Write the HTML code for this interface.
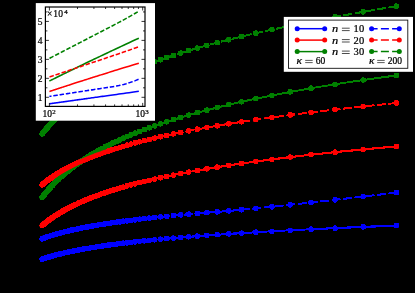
<!DOCTYPE html>
<html><head><meta charset="utf-8"><title>plot</title>
<style>
html,body{margin:0;padding:0;background:#000;}
body{width:415px;height:293px;overflow:hidden;position:relative;}
svg{position:absolute;left:0;top:0;display:block;}
text{font-family:"Liberation Serif",serif;fill:#000;stroke:#000;stroke-width:0.22px;}
</style></head><body>
<svg width="415" height="293" viewBox="0 0 415 293">
<defs><filter id="th" x="0" y="0" width="415" height="293" filterUnits="userSpaceOnUse" color-interpolation-filters="sRGB">
<feComponentTransfer><feFuncA type="linear" slope="40" intercept="-0.6"/></feComponentTransfer></filter>
<filter id="noop" x="0" y="0" width="415" height="293" filterUnits="userSpaceOnUse" color-interpolation-filters="sRGB"><feOffset dx="0" dy="0"/></filter></defs>
<rect width="415" height="293" fill="#000"/>
<g filter="url(#th)">
<path d="M42.10 259.20 L42.54 259.05 L42.99 258.89 L43.45 258.74 L43.92 258.58 L44.40 258.42 L44.89 258.26 L45.40 258.10 L45.91 257.93 L46.43 257.76 L46.96 257.60 L47.51 257.43 L48.07 257.25 L48.64 257.08 L49.23 256.90 L49.83 256.73 L50.44 256.55 L51.07 256.36 L51.71 256.18 L52.37 255.99 L53.04 255.80 L53.74 255.61 L54.45 255.42 L55.18 255.22 L55.92 255.02 L56.69 254.82 L57.48 254.62 L58.29 254.41 L59.12 254.20 L59.98 253.99 L60.86 253.77 L61.77 253.55 L62.70 253.33 L63.66 253.10 L64.65 252.87 L65.67 252.64 L66.72 252.41 L67.81 252.17 L68.93 251.92 L70.09 251.68 L71.29 251.42 L72.52 251.17 L73.80 250.91 L75.13 250.64 L76.50 250.37 L77.92 250.10 L79.39 249.82 L80.92 249.54 L82.51 249.25 L84.16 248.95 L85.88 248.65 L87.66 248.34 L89.53 248.03 L91.47 247.71 L93.49 247.38 L95.61 247.04 L97.82 246.70 L100.13 246.35 L102.55 245.99 L105.10 245.63 L107.77 245.25 L110.57 244.87 L113.53 244.47 L116.64 244.07 L119.93 243.65 L123.40 243.22 L127.08 242.78 L130.98 242.32 L135.13 241.86 L139.54 241.37 L144.25 240.87 L149.28 240.36 L154.67 239.82 L160.46 239.27 L166.70 238.69 L173.43 238.10 L180.73 237.48 L188.66 236.83 L197.31 236.15 L206.79 235.44 L217.21 234.70 L228.73 233.92 L241.53 233.10 L255.84 232.23 L271.93 231.30 L290.17 230.32 L311.02 229.27 L335.07 228.14 L363.14 226.92 L396.30 225.60" fill="none" stroke="#0000ff" stroke-width="1.1"/>
<g fill="#0000ff"><circle cx="42.10" cy="259.20" r="2.4"/><circle cx="42.54" cy="259.05" r="2.4"/><circle cx="42.99" cy="258.89" r="2.4"/><circle cx="43.45" cy="258.74" r="2.4"/><circle cx="43.92" cy="258.58" r="2.4"/><circle cx="44.40" cy="258.42" r="2.4"/><circle cx="44.89" cy="258.26" r="2.4"/><circle cx="45.40" cy="258.10" r="2.4"/><circle cx="45.91" cy="257.93" r="2.4"/><circle cx="46.43" cy="257.76" r="2.4"/><circle cx="46.96" cy="257.60" r="2.4"/><circle cx="47.51" cy="257.43" r="2.4"/><circle cx="48.07" cy="257.25" r="2.4"/><circle cx="48.64" cy="257.08" r="2.4"/><circle cx="49.23" cy="256.90" r="2.4"/><circle cx="49.83" cy="256.73" r="2.4"/><circle cx="50.44" cy="256.55" r="2.4"/><circle cx="51.07" cy="256.36" r="2.4"/><circle cx="51.71" cy="256.18" r="2.4"/><circle cx="52.37" cy="255.99" r="2.4"/><circle cx="53.04" cy="255.80" r="2.4"/><circle cx="53.74" cy="255.61" r="2.4"/><circle cx="54.45" cy="255.42" r="2.4"/><circle cx="55.18" cy="255.22" r="2.4"/><circle cx="55.92" cy="255.02" r="2.4"/><circle cx="56.69" cy="254.82" r="2.4"/><circle cx="57.48" cy="254.62" r="2.4"/><circle cx="58.29" cy="254.41" r="2.4"/><circle cx="59.12" cy="254.20" r="2.4"/><circle cx="59.98" cy="253.99" r="2.4"/><circle cx="60.86" cy="253.77" r="2.4"/><circle cx="61.77" cy="253.55" r="2.4"/><circle cx="62.70" cy="253.33" r="2.4"/><circle cx="63.66" cy="253.10" r="2.4"/><circle cx="64.65" cy="252.87" r="2.4"/><circle cx="65.67" cy="252.64" r="2.4"/><circle cx="66.72" cy="252.41" r="2.4"/><circle cx="67.81" cy="252.17" r="2.4"/><circle cx="68.93" cy="251.92" r="2.4"/><circle cx="70.09" cy="251.68" r="2.4"/><circle cx="71.29" cy="251.42" r="2.4"/><circle cx="72.52" cy="251.17" r="2.4"/><circle cx="73.80" cy="250.91" r="2.4"/><circle cx="75.13" cy="250.64" r="2.4"/><circle cx="76.50" cy="250.37" r="2.4"/><circle cx="77.92" cy="250.10" r="2.4"/><circle cx="79.39" cy="249.82" r="2.4"/><circle cx="80.92" cy="249.54" r="2.4"/><circle cx="82.51" cy="249.25" r="2.4"/><circle cx="84.16" cy="248.95" r="2.4"/><circle cx="85.88" cy="248.65" r="2.4"/><circle cx="87.66" cy="248.34" r="2.4"/><circle cx="89.53" cy="248.03" r="2.4"/><circle cx="91.47" cy="247.71" r="2.4"/><circle cx="93.49" cy="247.38" r="2.4"/><circle cx="95.61" cy="247.04" r="2.4"/><circle cx="97.82" cy="246.70" r="2.4"/><circle cx="100.13" cy="246.35" r="2.4"/><circle cx="102.55" cy="245.99" r="2.4"/><circle cx="105.10" cy="245.63" r="2.4"/><circle cx="107.77" cy="245.25" r="2.4"/><circle cx="110.57" cy="244.87" r="2.4"/><circle cx="113.53" cy="244.47" r="2.4"/><circle cx="116.64" cy="244.07" r="2.4"/><circle cx="119.93" cy="243.65" r="2.4"/><circle cx="123.40" cy="243.22" r="2.4"/><circle cx="127.08" cy="242.78" r="2.4"/><circle cx="130.98" cy="242.32" r="2.4"/><circle cx="135.13" cy="241.86" r="2.4"/><circle cx="139.54" cy="241.37" r="2.4"/><circle cx="144.25" cy="240.87" r="2.4"/><circle cx="149.28" cy="240.36" r="2.4"/><circle cx="154.67" cy="239.82" r="2.4"/><circle cx="160.46" cy="239.27" r="2.4"/><circle cx="166.70" cy="238.69" r="2.4"/><circle cx="173.43" cy="238.10" r="2.4"/><circle cx="180.73" cy="237.48" r="2.4"/><circle cx="188.66" cy="236.83" r="2.4"/><circle cx="197.31" cy="236.15" r="2.4"/><circle cx="206.79" cy="235.44" r="2.4"/><circle cx="217.21" cy="234.70" r="2.4"/><circle cx="228.73" cy="233.92" r="2.4"/><circle cx="241.53" cy="233.10" r="2.4"/><circle cx="255.84" cy="232.23" r="2.4"/><circle cx="271.93" cy="231.30" r="2.4"/><circle cx="290.17" cy="230.32" r="2.4"/><circle cx="311.02" cy="229.27" r="2.4"/><circle cx="335.07" cy="228.14" r="2.4"/><circle cx="363.14" cy="226.92" r="2.4"/><circle cx="396.30" cy="225.60" r="2.4"/></g>
<path d="M42.10 225.60 L42.54 225.22 L42.99 224.84 L43.45 224.46 L43.92 224.07 L44.40 223.68 L44.89 223.28 L45.40 222.88 L45.91 222.48 L46.43 222.07 L46.96 221.66 L47.51 221.24 L48.07 220.82 L48.64 220.39 L49.23 219.96 L49.83 219.53 L50.44 219.08 L51.07 218.64 L51.71 218.19 L52.37 217.73 L53.04 217.27 L53.74 216.80 L54.45 216.33 L55.18 215.85 L55.92 215.36 L56.69 214.87 L57.48 214.38 L58.29 213.87 L59.12 213.36 L59.98 212.84 L60.86 212.32 L61.77 211.79 L62.70 211.25 L63.66 210.70 L64.65 210.15 L65.67 209.58 L66.72 209.01 L67.81 208.43 L68.93 207.84 L70.09 207.24 L71.29 206.64 L72.52 206.02 L73.80 205.39 L75.13 204.75 L76.50 204.11 L77.92 203.44 L79.39 202.77 L80.92 202.09 L82.51 201.39 L84.16 200.68 L85.88 199.96 L87.66 199.22 L89.53 198.47 L91.47 197.71 L93.49 196.92 L95.61 196.13 L97.82 195.31 L100.13 194.48 L102.55 193.62 L105.10 192.75 L107.77 191.86 L110.57 190.94 L113.53 190.00 L116.64 189.04 L119.93 188.06 L123.40 187.04 L127.08 186.00 L130.98 184.93 L135.13 183.83 L139.54 182.69 L144.25 181.52 L149.28 180.31 L154.67 179.05 L160.46 177.76 L166.70 176.42 L173.43 175.03 L180.73 173.58 L188.66 172.07 L197.31 170.50 L206.79 168.86 L217.21 167.15 L228.73 165.35 L241.53 163.45 L255.84 161.46 L271.93 159.34 L290.17 157.10 L311.02 154.71 L335.07 152.14 L363.14 149.39 L396.30 146.40" fill="none" stroke="#ff0000" stroke-width="1.1"/>
<g fill="#ff0000"><circle cx="42.10" cy="225.60" r="2.4"/><circle cx="42.54" cy="225.22" r="2.4"/><circle cx="42.99" cy="224.84" r="2.4"/><circle cx="43.45" cy="224.46" r="2.4"/><circle cx="43.92" cy="224.07" r="2.4"/><circle cx="44.40" cy="223.68" r="2.4"/><circle cx="44.89" cy="223.28" r="2.4"/><circle cx="45.40" cy="222.88" r="2.4"/><circle cx="45.91" cy="222.48" r="2.4"/><circle cx="46.43" cy="222.07" r="2.4"/><circle cx="46.96" cy="221.66" r="2.4"/><circle cx="47.51" cy="221.24" r="2.4"/><circle cx="48.07" cy="220.82" r="2.4"/><circle cx="48.64" cy="220.39" r="2.4"/><circle cx="49.23" cy="219.96" r="2.4"/><circle cx="49.83" cy="219.53" r="2.4"/><circle cx="50.44" cy="219.08" r="2.4"/><circle cx="51.07" cy="218.64" r="2.4"/><circle cx="51.71" cy="218.19" r="2.4"/><circle cx="52.37" cy="217.73" r="2.4"/><circle cx="53.04" cy="217.27" r="2.4"/><circle cx="53.74" cy="216.80" r="2.4"/><circle cx="54.45" cy="216.33" r="2.4"/><circle cx="55.18" cy="215.85" r="2.4"/><circle cx="55.92" cy="215.36" r="2.4"/><circle cx="56.69" cy="214.87" r="2.4"/><circle cx="57.48" cy="214.38" r="2.4"/><circle cx="58.29" cy="213.87" r="2.4"/><circle cx="59.12" cy="213.36" r="2.4"/><circle cx="59.98" cy="212.84" r="2.4"/><circle cx="60.86" cy="212.32" r="2.4"/><circle cx="61.77" cy="211.79" r="2.4"/><circle cx="62.70" cy="211.25" r="2.4"/><circle cx="63.66" cy="210.70" r="2.4"/><circle cx="64.65" cy="210.15" r="2.4"/><circle cx="65.67" cy="209.58" r="2.4"/><circle cx="66.72" cy="209.01" r="2.4"/><circle cx="67.81" cy="208.43" r="2.4"/><circle cx="68.93" cy="207.84" r="2.4"/><circle cx="70.09" cy="207.24" r="2.4"/><circle cx="71.29" cy="206.64" r="2.4"/><circle cx="72.52" cy="206.02" r="2.4"/><circle cx="73.80" cy="205.39" r="2.4"/><circle cx="75.13" cy="204.75" r="2.4"/><circle cx="76.50" cy="204.11" r="2.4"/><circle cx="77.92" cy="203.44" r="2.4"/><circle cx="79.39" cy="202.77" r="2.4"/><circle cx="80.92" cy="202.09" r="2.4"/><circle cx="82.51" cy="201.39" r="2.4"/><circle cx="84.16" cy="200.68" r="2.4"/><circle cx="85.88" cy="199.96" r="2.4"/><circle cx="87.66" cy="199.22" r="2.4"/><circle cx="89.53" cy="198.47" r="2.4"/><circle cx="91.47" cy="197.71" r="2.4"/><circle cx="93.49" cy="196.92" r="2.4"/><circle cx="95.61" cy="196.13" r="2.4"/><circle cx="97.82" cy="195.31" r="2.4"/><circle cx="100.13" cy="194.48" r="2.4"/><circle cx="102.55" cy="193.62" r="2.4"/><circle cx="105.10" cy="192.75" r="2.4"/><circle cx="107.77" cy="191.86" r="2.4"/><circle cx="110.57" cy="190.94" r="2.4"/><circle cx="113.53" cy="190.00" r="2.4"/><circle cx="116.64" cy="189.04" r="2.4"/><circle cx="119.93" cy="188.06" r="2.4"/><circle cx="123.40" cy="187.04" r="2.4"/><circle cx="127.08" cy="186.00" r="2.4"/><circle cx="130.98" cy="184.93" r="2.4"/><circle cx="135.13" cy="183.83" r="2.4"/><circle cx="139.54" cy="182.69" r="2.4"/><circle cx="144.25" cy="181.52" r="2.4"/><circle cx="149.28" cy="180.31" r="2.4"/><circle cx="154.67" cy="179.05" r="2.4"/><circle cx="160.46" cy="177.76" r="2.4"/><circle cx="166.70" cy="176.42" r="2.4"/><circle cx="173.43" cy="175.03" r="2.4"/><circle cx="180.73" cy="173.58" r="2.4"/><circle cx="188.66" cy="172.07" r="2.4"/><circle cx="197.31" cy="170.50" r="2.4"/><circle cx="206.79" cy="168.86" r="2.4"/><circle cx="217.21" cy="167.15" r="2.4"/><circle cx="228.73" cy="165.35" r="2.4"/><circle cx="241.53" cy="163.45" r="2.4"/><circle cx="255.84" cy="161.46" r="2.4"/><circle cx="271.93" cy="159.34" r="2.4"/><circle cx="290.17" cy="157.10" r="2.4"/><circle cx="311.02" cy="154.71" r="2.4"/><circle cx="335.07" cy="152.14" r="2.4"/><circle cx="363.14" cy="149.39" r="2.4"/><circle cx="396.30" cy="146.40" r="2.4"/></g>
<path d="M42.10 197.50 L42.54 196.92 L42.99 196.34 L43.45 195.75 L43.92 195.15 L44.40 194.55 L44.89 193.94 L45.40 193.33 L45.91 192.71 L46.43 192.08 L46.96 191.45 L47.51 190.81 L48.07 190.16 L48.64 189.51 L49.23 188.85 L49.83 188.18 L50.44 187.50 L51.07 186.82 L51.71 186.12 L52.37 185.42 L53.04 184.71 L53.74 183.99 L54.45 183.27 L55.18 182.53 L55.92 181.79 L56.69 181.03 L57.48 180.27 L58.29 179.49 L59.12 178.71 L59.98 177.91 L60.86 177.11 L61.77 176.29 L62.70 175.46 L63.66 174.62 L64.65 173.77 L65.67 172.90 L66.72 172.02 L67.81 171.13 L68.93 170.23 L70.09 169.31 L71.29 168.37 L72.52 167.42 L73.80 166.46 L75.13 165.48 L76.50 164.48 L77.92 163.46 L79.39 162.43 L80.92 161.38 L82.51 160.31 L84.16 159.22 L85.88 158.11 L87.66 156.97 L89.53 155.81 L91.47 154.64 L93.49 153.43 L95.61 152.20 L97.82 150.94 L100.13 149.66 L102.55 148.35 L105.10 147.00 L107.77 145.63 L110.57 144.22 L113.53 142.77 L116.64 141.29 L119.93 139.77 L123.40 138.21 L127.08 136.60 L130.98 134.95 L135.13 133.25 L139.54 131.50 L144.25 129.69 L149.28 127.82 L154.67 125.89 L160.46 123.89 L166.70 121.82 L173.43 119.67 L180.73 117.44 L188.66 115.12 L197.31 112.69 L206.79 110.16 L217.21 107.51 L228.73 104.72 L241.53 101.80 L255.84 98.71 L271.93 95.44 L290.17 91.97 L311.02 88.27 L335.07 84.30 L363.14 80.03 L396.30 75.40" fill="none" stroke="#008000" stroke-width="1.1"/>
<g fill="#008000"><circle cx="42.10" cy="197.50" r="2.4"/><circle cx="42.54" cy="196.92" r="2.4"/><circle cx="42.99" cy="196.34" r="2.4"/><circle cx="43.45" cy="195.75" r="2.4"/><circle cx="43.92" cy="195.15" r="2.4"/><circle cx="44.40" cy="194.55" r="2.4"/><circle cx="44.89" cy="193.94" r="2.4"/><circle cx="45.40" cy="193.33" r="2.4"/><circle cx="45.91" cy="192.71" r="2.4"/><circle cx="46.43" cy="192.08" r="2.4"/><circle cx="46.96" cy="191.45" r="2.4"/><circle cx="47.51" cy="190.81" r="2.4"/><circle cx="48.07" cy="190.16" r="2.4"/><circle cx="48.64" cy="189.51" r="2.4"/><circle cx="49.23" cy="188.85" r="2.4"/><circle cx="49.83" cy="188.18" r="2.4"/><circle cx="50.44" cy="187.50" r="2.4"/><circle cx="51.07" cy="186.82" r="2.4"/><circle cx="51.71" cy="186.12" r="2.4"/><circle cx="52.37" cy="185.42" r="2.4"/><circle cx="53.04" cy="184.71" r="2.4"/><circle cx="53.74" cy="183.99" r="2.4"/><circle cx="54.45" cy="183.27" r="2.4"/><circle cx="55.18" cy="182.53" r="2.4"/><circle cx="55.92" cy="181.79" r="2.4"/><circle cx="56.69" cy="181.03" r="2.4"/><circle cx="57.48" cy="180.27" r="2.4"/><circle cx="58.29" cy="179.49" r="2.4"/><circle cx="59.12" cy="178.71" r="2.4"/><circle cx="59.98" cy="177.91" r="2.4"/><circle cx="60.86" cy="177.11" r="2.4"/><circle cx="61.77" cy="176.29" r="2.4"/><circle cx="62.70" cy="175.46" r="2.4"/><circle cx="63.66" cy="174.62" r="2.4"/><circle cx="64.65" cy="173.77" r="2.4"/><circle cx="65.67" cy="172.90" r="2.4"/><circle cx="66.72" cy="172.02" r="2.4"/><circle cx="67.81" cy="171.13" r="2.4"/><circle cx="68.93" cy="170.23" r="2.4"/><circle cx="70.09" cy="169.31" r="2.4"/><circle cx="71.29" cy="168.37" r="2.4"/><circle cx="72.52" cy="167.42" r="2.4"/><circle cx="73.80" cy="166.46" r="2.4"/><circle cx="75.13" cy="165.48" r="2.4"/><circle cx="76.50" cy="164.48" r="2.4"/><circle cx="77.92" cy="163.46" r="2.4"/><circle cx="79.39" cy="162.43" r="2.4"/><circle cx="80.92" cy="161.38" r="2.4"/><circle cx="82.51" cy="160.31" r="2.4"/><circle cx="84.16" cy="159.22" r="2.4"/><circle cx="85.88" cy="158.11" r="2.4"/><circle cx="87.66" cy="156.97" r="2.4"/><circle cx="89.53" cy="155.81" r="2.4"/><circle cx="91.47" cy="154.64" r="2.4"/><circle cx="93.49" cy="153.43" r="2.4"/><circle cx="95.61" cy="152.20" r="2.4"/><circle cx="97.82" cy="150.94" r="2.4"/><circle cx="100.13" cy="149.66" r="2.4"/><circle cx="102.55" cy="148.35" r="2.4"/><circle cx="105.10" cy="147.00" r="2.4"/><circle cx="107.77" cy="145.63" r="2.4"/><circle cx="110.57" cy="144.22" r="2.4"/><circle cx="113.53" cy="142.77" r="2.4"/><circle cx="116.64" cy="141.29" r="2.4"/><circle cx="119.93" cy="139.77" r="2.4"/><circle cx="123.40" cy="138.21" r="2.4"/><circle cx="127.08" cy="136.60" r="2.4"/><circle cx="130.98" cy="134.95" r="2.4"/><circle cx="135.13" cy="133.25" r="2.4"/><circle cx="139.54" cy="131.50" r="2.4"/><circle cx="144.25" cy="129.69" r="2.4"/><circle cx="149.28" cy="127.82" r="2.4"/><circle cx="154.67" cy="125.89" r="2.4"/><circle cx="160.46" cy="123.89" r="2.4"/><circle cx="166.70" cy="121.82" r="2.4"/><circle cx="173.43" cy="119.67" r="2.4"/><circle cx="180.73" cy="117.44" r="2.4"/><circle cx="188.66" cy="115.12" r="2.4"/><circle cx="197.31" cy="112.69" r="2.4"/><circle cx="206.79" cy="110.16" r="2.4"/><circle cx="217.21" cy="107.51" r="2.4"/><circle cx="228.73" cy="104.72" r="2.4"/><circle cx="241.53" cy="101.80" r="2.4"/><circle cx="255.84" cy="98.71" r="2.4"/><circle cx="271.93" cy="95.44" r="2.4"/><circle cx="290.17" cy="91.97" r="2.4"/><circle cx="311.02" cy="88.27" r="2.4"/><circle cx="335.07" cy="84.30" r="2.4"/><circle cx="363.14" cy="80.03" r="2.4"/><circle cx="396.30" cy="75.40" r="2.4"/></g>
<path d="M42.10 238.80 L42.54 238.63 L42.99 238.46 L43.45 238.29 L43.92 238.12 L44.40 237.94 L44.89 237.77 L45.40 237.59 L45.91 237.41 L46.43 237.22 L46.96 237.04 L47.51 236.85 L48.07 236.66 L48.64 236.47 L49.23 236.28 L49.83 236.08 L50.44 235.89 L51.07 235.69 L51.71 235.48 L52.37 235.28 L53.04 235.07 L53.74 234.86 L54.45 234.65 L55.18 234.43 L55.92 234.21 L56.69 233.99 L57.48 233.77 L58.29 233.54 L59.12 233.31 L59.98 233.08 L60.86 232.84 L61.77 232.60 L62.70 232.36 L63.66 232.11 L64.65 231.86 L65.67 231.60 L66.72 231.34 L67.81 231.08 L68.93 230.81 L70.09 230.54 L71.29 230.26 L72.52 229.98 L73.80 229.70 L75.13 229.41 L76.50 229.11 L77.92 228.81 L79.39 228.50 L80.92 228.19 L82.51 227.87 L84.16 227.55 L85.88 227.22 L87.66 226.88 L89.53 226.54 L91.47 226.18 L93.49 225.83 L95.61 225.46 L97.82 225.08 L100.13 224.70 L102.55 224.31 L105.10 223.90 L107.77 223.49 L110.57 223.07 L113.53 222.63 L116.64 222.19 L119.93 221.73 L123.40 221.26 L127.08 220.77 L130.98 220.28 L135.13 219.76 L139.54 219.23 L144.25 218.68 L149.28 218.12 L154.67 217.53 L160.46 216.92 L166.70 216.29 L173.43 215.64 L180.73 214.96 L188.66 214.24 L197.31 213.50 L206.79 212.72 L217.21 211.90 L228.73 210.93 L241.53 209.77 L255.84 208.39 L271.93 206.75 L290.17 204.81 L311.02 202.52 L335.07 199.80 L363.14 196.57 L396.30 192.70" fill="none" stroke="#0000ff" stroke-width="1.1" stroke-dasharray="8.0 3.4" stroke-dashoffset="3.20"/>
<g fill="#0000ff"><circle cx="42.10" cy="238.80" r="2.4"/><circle cx="42.54" cy="238.63" r="2.4"/><circle cx="42.99" cy="238.46" r="2.4"/><circle cx="43.45" cy="238.29" r="2.4"/><circle cx="43.92" cy="238.12" r="2.4"/><circle cx="44.40" cy="237.94" r="2.4"/><circle cx="44.89" cy="237.77" r="2.4"/><circle cx="45.40" cy="237.59" r="2.4"/><circle cx="45.91" cy="237.41" r="2.4"/><circle cx="46.43" cy="237.22" r="2.4"/><circle cx="46.96" cy="237.04" r="2.4"/><circle cx="47.51" cy="236.85" r="2.4"/><circle cx="48.07" cy="236.66" r="2.4"/><circle cx="48.64" cy="236.47" r="2.4"/><circle cx="49.23" cy="236.28" r="2.4"/><circle cx="49.83" cy="236.08" r="2.4"/><circle cx="50.44" cy="235.89" r="2.4"/><circle cx="51.07" cy="235.69" r="2.4"/><circle cx="51.71" cy="235.48" r="2.4"/><circle cx="52.37" cy="235.28" r="2.4"/><circle cx="53.04" cy="235.07" r="2.4"/><circle cx="53.74" cy="234.86" r="2.4"/><circle cx="54.45" cy="234.65" r="2.4"/><circle cx="55.18" cy="234.43" r="2.4"/><circle cx="55.92" cy="234.21" r="2.4"/><circle cx="56.69" cy="233.99" r="2.4"/><circle cx="57.48" cy="233.77" r="2.4"/><circle cx="58.29" cy="233.54" r="2.4"/><circle cx="59.12" cy="233.31" r="2.4"/><circle cx="59.98" cy="233.08" r="2.4"/><circle cx="60.86" cy="232.84" r="2.4"/><circle cx="61.77" cy="232.60" r="2.4"/><circle cx="62.70" cy="232.36" r="2.4"/><circle cx="63.66" cy="232.11" r="2.4"/><circle cx="64.65" cy="231.86" r="2.4"/><circle cx="65.67" cy="231.60" r="2.4"/><circle cx="66.72" cy="231.34" r="2.4"/><circle cx="67.81" cy="231.08" r="2.4"/><circle cx="68.93" cy="230.81" r="2.4"/><circle cx="70.09" cy="230.54" r="2.4"/><circle cx="71.29" cy="230.26" r="2.4"/><circle cx="72.52" cy="229.98" r="2.4"/><circle cx="73.80" cy="229.70" r="2.4"/><circle cx="75.13" cy="229.41" r="2.4"/><circle cx="76.50" cy="229.11" r="2.4"/><circle cx="77.92" cy="228.81" r="2.4"/><circle cx="79.39" cy="228.50" r="2.4"/><circle cx="80.92" cy="228.19" r="2.4"/><circle cx="82.51" cy="227.87" r="2.4"/><circle cx="84.16" cy="227.55" r="2.4"/><circle cx="85.88" cy="227.22" r="2.4"/><circle cx="87.66" cy="226.88" r="2.4"/><circle cx="89.53" cy="226.54" r="2.4"/><circle cx="91.47" cy="226.18" r="2.4"/><circle cx="93.49" cy="225.83" r="2.4"/><circle cx="95.61" cy="225.46" r="2.4"/><circle cx="97.82" cy="225.08" r="2.4"/><circle cx="100.13" cy="224.70" r="2.4"/><circle cx="102.55" cy="224.31" r="2.4"/><circle cx="105.10" cy="223.90" r="2.4"/><circle cx="107.77" cy="223.49" r="2.4"/><circle cx="110.57" cy="223.07" r="2.4"/><circle cx="113.53" cy="222.63" r="2.4"/><circle cx="116.64" cy="222.19" r="2.4"/><circle cx="119.93" cy="221.73" r="2.4"/><circle cx="123.40" cy="221.26" r="2.4"/><circle cx="127.08" cy="220.77" r="2.4"/><circle cx="130.98" cy="220.28" r="2.4"/><circle cx="135.13" cy="219.76" r="2.4"/><circle cx="139.54" cy="219.23" r="2.4"/><circle cx="144.25" cy="218.68" r="2.4"/><circle cx="149.28" cy="218.12" r="2.4"/><circle cx="154.67" cy="217.53" r="2.4"/><circle cx="160.46" cy="216.92" r="2.4"/><circle cx="166.70" cy="216.29" r="2.4"/><circle cx="173.43" cy="215.64" r="2.4"/><circle cx="180.73" cy="214.96" r="2.4"/><circle cx="188.66" cy="214.24" r="2.4"/><circle cx="197.31" cy="213.50" r="2.4"/><circle cx="206.79" cy="212.72" r="2.4"/><circle cx="217.21" cy="211.90" r="2.4"/><circle cx="228.73" cy="210.93" r="2.4"/><circle cx="241.53" cy="209.77" r="2.4"/><circle cx="255.84" cy="208.39" r="2.4"/><circle cx="271.93" cy="206.75" r="2.4"/><circle cx="290.17" cy="204.81" r="2.4"/><circle cx="311.02" cy="202.52" r="2.4"/><circle cx="335.07" cy="199.80" r="2.4"/><circle cx="363.14" cy="196.57" r="2.4"/><circle cx="396.30" cy="192.70" r="2.4"/></g>
<path d="M42.10 184.80 L42.54 184.43 L42.99 184.06 L43.45 183.68 L43.92 183.30 L44.40 182.92 L44.89 182.53 L45.40 182.14 L45.91 181.74 L46.43 181.34 L46.96 180.93 L47.51 180.52 L48.07 180.11 L48.64 179.69 L49.23 179.27 L49.83 178.84 L50.44 178.40 L51.07 177.96 L51.71 177.52 L52.37 177.07 L53.04 176.61 L53.74 176.15 L54.45 175.68 L55.18 175.21 L55.92 174.73 L56.69 174.25 L57.48 173.75 L58.29 173.25 L59.12 172.75 L59.98 172.23 L60.86 171.71 L61.77 171.19 L62.70 170.65 L63.66 170.11 L64.65 169.56 L65.67 169.00 L66.72 168.43 L67.81 167.85 L68.93 167.26 L70.09 166.66 L71.29 166.06 L72.52 165.44 L73.80 164.81 L75.13 164.18 L76.50 163.53 L77.92 162.87 L79.39 162.19 L80.92 161.51 L82.51 160.81 L84.16 160.10 L85.88 159.37 L87.66 158.63 L89.53 157.87 L91.47 157.10 L93.49 156.31 L95.61 155.50 L97.82 154.68 L100.13 153.84 L102.55 152.97 L105.10 152.09 L107.77 151.18 L110.57 150.25 L113.53 149.30 L116.64 148.32 L119.93 147.32 L123.40 146.28 L127.08 145.22 L130.98 144.12 L135.13 143.00 L139.54 141.83 L144.25 140.63 L149.28 139.38 L154.67 138.10 L160.46 136.76 L166.70 135.38 L173.43 133.94 L180.73 132.44 L188.66 130.88 L197.31 129.25 L206.79 127.54 L217.21 125.75 L228.73 123.86 L241.53 121.85 L255.84 119.72 L271.93 117.44 L290.17 114.99 L311.02 112.36 L335.07 109.51 L363.14 106.41 L396.30 103.00" fill="none" stroke="#ff0000" stroke-width="1.1" stroke-dasharray="8.0 3.4" stroke-dashoffset="5.11"/>
<g fill="#ff0000"><circle cx="42.10" cy="184.80" r="2.4"/><circle cx="42.54" cy="184.43" r="2.4"/><circle cx="42.99" cy="184.06" r="2.4"/><circle cx="43.45" cy="183.68" r="2.4"/><circle cx="43.92" cy="183.30" r="2.4"/><circle cx="44.40" cy="182.92" r="2.4"/><circle cx="44.89" cy="182.53" r="2.4"/><circle cx="45.40" cy="182.14" r="2.4"/><circle cx="45.91" cy="181.74" r="2.4"/><circle cx="46.43" cy="181.34" r="2.4"/><circle cx="46.96" cy="180.93" r="2.4"/><circle cx="47.51" cy="180.52" r="2.4"/><circle cx="48.07" cy="180.11" r="2.4"/><circle cx="48.64" cy="179.69" r="2.4"/><circle cx="49.23" cy="179.27" r="2.4"/><circle cx="49.83" cy="178.84" r="2.4"/><circle cx="50.44" cy="178.40" r="2.4"/><circle cx="51.07" cy="177.96" r="2.4"/><circle cx="51.71" cy="177.52" r="2.4"/><circle cx="52.37" cy="177.07" r="2.4"/><circle cx="53.04" cy="176.61" r="2.4"/><circle cx="53.74" cy="176.15" r="2.4"/><circle cx="54.45" cy="175.68" r="2.4"/><circle cx="55.18" cy="175.21" r="2.4"/><circle cx="55.92" cy="174.73" r="2.4"/><circle cx="56.69" cy="174.25" r="2.4"/><circle cx="57.48" cy="173.75" r="2.4"/><circle cx="58.29" cy="173.25" r="2.4"/><circle cx="59.12" cy="172.75" r="2.4"/><circle cx="59.98" cy="172.23" r="2.4"/><circle cx="60.86" cy="171.71" r="2.4"/><circle cx="61.77" cy="171.19" r="2.4"/><circle cx="62.70" cy="170.65" r="2.4"/><circle cx="63.66" cy="170.11" r="2.4"/><circle cx="64.65" cy="169.56" r="2.4"/><circle cx="65.67" cy="169.00" r="2.4"/><circle cx="66.72" cy="168.43" r="2.4"/><circle cx="67.81" cy="167.85" r="2.4"/><circle cx="68.93" cy="167.26" r="2.4"/><circle cx="70.09" cy="166.66" r="2.4"/><circle cx="71.29" cy="166.06" r="2.4"/><circle cx="72.52" cy="165.44" r="2.4"/><circle cx="73.80" cy="164.81" r="2.4"/><circle cx="75.13" cy="164.18" r="2.4"/><circle cx="76.50" cy="163.53" r="2.4"/><circle cx="77.92" cy="162.87" r="2.4"/><circle cx="79.39" cy="162.19" r="2.4"/><circle cx="80.92" cy="161.51" r="2.4"/><circle cx="82.51" cy="160.81" r="2.4"/><circle cx="84.16" cy="160.10" r="2.4"/><circle cx="85.88" cy="159.37" r="2.4"/><circle cx="87.66" cy="158.63" r="2.4"/><circle cx="89.53" cy="157.87" r="2.4"/><circle cx="91.47" cy="157.10" r="2.4"/><circle cx="93.49" cy="156.31" r="2.4"/><circle cx="95.61" cy="155.50" r="2.4"/><circle cx="97.82" cy="154.68" r="2.4"/><circle cx="100.13" cy="153.84" r="2.4"/><circle cx="102.55" cy="152.97" r="2.4"/><circle cx="105.10" cy="152.09" r="2.4"/><circle cx="107.77" cy="151.18" r="2.4"/><circle cx="110.57" cy="150.25" r="2.4"/><circle cx="113.53" cy="149.30" r="2.4"/><circle cx="116.64" cy="148.32" r="2.4"/><circle cx="119.93" cy="147.32" r="2.4"/><circle cx="123.40" cy="146.28" r="2.4"/><circle cx="127.08" cy="145.22" r="2.4"/><circle cx="130.98" cy="144.12" r="2.4"/><circle cx="135.13" cy="143.00" r="2.4"/><circle cx="139.54" cy="141.83" r="2.4"/><circle cx="144.25" cy="140.63" r="2.4"/><circle cx="149.28" cy="139.38" r="2.4"/><circle cx="154.67" cy="138.10" r="2.4"/><circle cx="160.46" cy="136.76" r="2.4"/><circle cx="166.70" cy="135.38" r="2.4"/><circle cx="173.43" cy="133.94" r="2.4"/><circle cx="180.73" cy="132.44" r="2.4"/><circle cx="188.66" cy="130.88" r="2.4"/><circle cx="197.31" cy="129.25" r="2.4"/><circle cx="206.79" cy="127.54" r="2.4"/><circle cx="217.21" cy="125.75" r="2.4"/><circle cx="228.73" cy="123.86" r="2.4"/><circle cx="241.53" cy="121.85" r="2.4"/><circle cx="255.84" cy="119.72" r="2.4"/><circle cx="271.93" cy="117.44" r="2.4"/><circle cx="290.17" cy="114.99" r="2.4"/><circle cx="311.02" cy="112.36" r="2.4"/><circle cx="335.07" cy="109.51" r="2.4"/><circle cx="363.14" cy="106.41" r="2.4"/><circle cx="396.30" cy="103.00" r="2.4"/></g>
<path d="M42.10 134.10 L42.54 133.53 L42.99 132.95 L43.45 132.37 L43.92 131.78 L44.40 131.19 L44.89 130.59 L45.40 129.98 L45.91 129.37 L46.43 128.74 L46.96 128.12 L47.51 127.48 L48.07 126.84 L48.64 126.19 L49.23 125.54 L49.83 124.87 L50.44 124.20 L51.07 123.52 L51.71 122.83 L52.37 122.13 L53.04 121.43 L53.74 120.71 L54.45 119.99 L55.18 119.26 L55.92 118.52 L56.69 117.76 L57.48 117.00 L58.29 116.23 L59.12 115.45 L59.98 114.65 L60.86 113.85 L61.77 113.03 L62.70 112.20 L63.66 111.36 L64.65 110.50 L65.67 109.64 L66.72 108.76 L67.81 107.86 L68.93 106.95 L70.09 106.03 L71.29 105.09 L72.52 104.14 L73.80 103.17 L75.13 102.18 L76.50 101.17 L77.92 100.15 L79.39 99.11 L80.92 98.05 L82.51 96.97 L84.16 95.86 L85.88 94.74 L87.66 93.59 L89.53 92.42 L91.47 91.23 L93.49 90.00 L95.61 88.76 L97.82 87.48 L100.13 86.17 L102.55 84.84 L105.10 83.47 L107.77 82.07 L110.57 80.63 L113.53 79.15 L116.64 77.64 L119.93 76.08 L123.40 74.48 L127.08 72.84 L130.98 71.14 L135.13 69.40 L139.54 67.59 L144.25 65.73 L149.28 63.81 L154.67 61.81 L160.46 59.75 L166.70 57.61 L173.43 55.38 L180.73 53.06 L188.66 50.64 L197.31 48.12 L206.79 45.48 L217.21 42.70 L228.73 39.76 L241.53 36.62 L255.84 33.25 L271.93 29.64 L290.17 25.74 L311.02 21.50 L335.07 16.88 L363.14 11.81 L396.30 6.20" fill="none" stroke="#008000" stroke-width="1.1" stroke-dasharray="8.0 3.4" stroke-dashoffset="11.37"/>
<g fill="#008000"><circle cx="42.10" cy="134.10" r="2.4"/><circle cx="42.54" cy="133.53" r="2.4"/><circle cx="42.99" cy="132.95" r="2.4"/><circle cx="43.45" cy="132.37" r="2.4"/><circle cx="43.92" cy="131.78" r="2.4"/><circle cx="44.40" cy="131.19" r="2.4"/><circle cx="44.89" cy="130.59" r="2.4"/><circle cx="45.40" cy="129.98" r="2.4"/><circle cx="45.91" cy="129.37" r="2.4"/><circle cx="46.43" cy="128.74" r="2.4"/><circle cx="46.96" cy="128.12" r="2.4"/><circle cx="47.51" cy="127.48" r="2.4"/><circle cx="48.07" cy="126.84" r="2.4"/><circle cx="48.64" cy="126.19" r="2.4"/><circle cx="49.23" cy="125.54" r="2.4"/><circle cx="49.83" cy="124.87" r="2.4"/><circle cx="50.44" cy="124.20" r="2.4"/><circle cx="51.07" cy="123.52" r="2.4"/><circle cx="51.71" cy="122.83" r="2.4"/><circle cx="52.37" cy="122.13" r="2.4"/><circle cx="53.04" cy="121.43" r="2.4"/><circle cx="53.74" cy="120.71" r="2.4"/><circle cx="54.45" cy="119.99" r="2.4"/><circle cx="55.18" cy="119.26" r="2.4"/><circle cx="55.92" cy="118.52" r="2.4"/><circle cx="56.69" cy="117.76" r="2.4"/><circle cx="57.48" cy="117.00" r="2.4"/><circle cx="58.29" cy="116.23" r="2.4"/><circle cx="59.12" cy="115.45" r="2.4"/><circle cx="59.98" cy="114.65" r="2.4"/><circle cx="60.86" cy="113.85" r="2.4"/><circle cx="61.77" cy="113.03" r="2.4"/><circle cx="62.70" cy="112.20" r="2.4"/><circle cx="63.66" cy="111.36" r="2.4"/><circle cx="64.65" cy="110.50" r="2.4"/><circle cx="65.67" cy="109.64" r="2.4"/><circle cx="66.72" cy="108.76" r="2.4"/><circle cx="67.81" cy="107.86" r="2.4"/><circle cx="68.93" cy="106.95" r="2.4"/><circle cx="70.09" cy="106.03" r="2.4"/><circle cx="71.29" cy="105.09" r="2.4"/><circle cx="72.52" cy="104.14" r="2.4"/><circle cx="73.80" cy="103.17" r="2.4"/><circle cx="75.13" cy="102.18" r="2.4"/><circle cx="76.50" cy="101.17" r="2.4"/><circle cx="77.92" cy="100.15" r="2.4"/><circle cx="79.39" cy="99.11" r="2.4"/><circle cx="80.92" cy="98.05" r="2.4"/><circle cx="82.51" cy="96.97" r="2.4"/><circle cx="84.16" cy="95.86" r="2.4"/><circle cx="85.88" cy="94.74" r="2.4"/><circle cx="87.66" cy="93.59" r="2.4"/><circle cx="89.53" cy="92.42" r="2.4"/><circle cx="91.47" cy="91.23" r="2.4"/><circle cx="93.49" cy="90.00" r="2.4"/><circle cx="95.61" cy="88.76" r="2.4"/><circle cx="97.82" cy="87.48" r="2.4"/><circle cx="100.13" cy="86.17" r="2.4"/><circle cx="102.55" cy="84.84" r="2.4"/><circle cx="105.10" cy="83.47" r="2.4"/><circle cx="107.77" cy="82.07" r="2.4"/><circle cx="110.57" cy="80.63" r="2.4"/><circle cx="113.53" cy="79.15" r="2.4"/><circle cx="116.64" cy="77.64" r="2.4"/><circle cx="119.93" cy="76.08" r="2.4"/><circle cx="123.40" cy="74.48" r="2.4"/><circle cx="127.08" cy="72.84" r="2.4"/><circle cx="130.98" cy="71.14" r="2.4"/><circle cx="135.13" cy="69.40" r="2.4"/><circle cx="139.54" cy="67.59" r="2.4"/><circle cx="144.25" cy="65.73" r="2.4"/><circle cx="149.28" cy="63.81" r="2.4"/><circle cx="154.67" cy="61.81" r="2.4"/><circle cx="160.46" cy="59.75" r="2.4"/><circle cx="166.70" cy="57.61" r="2.4"/><circle cx="173.43" cy="55.38" r="2.4"/><circle cx="180.73" cy="53.06" r="2.4"/><circle cx="188.66" cy="50.64" r="2.4"/><circle cx="197.31" cy="48.12" r="2.4"/><circle cx="206.79" cy="45.48" r="2.4"/><circle cx="217.21" cy="42.70" r="2.4"/><circle cx="228.73" cy="39.76" r="2.4"/><circle cx="241.53" cy="36.62" r="2.4"/><circle cx="255.84" cy="33.25" r="2.4"/><circle cx="271.93" cy="29.64" r="2.4"/><circle cx="290.17" cy="25.74" r="2.4"/><circle cx="311.02" cy="21.50" r="2.4"/><circle cx="335.07" cy="16.88" r="2.4"/><circle cx="363.14" cy="11.81" r="2.4"/><circle cx="396.30" cy="6.20" r="2.4"/></g>
</g>
<g filter="url(#noop)">
<rect x="35.8" y="3.1" width="119.20" height="117.60" fill="#fff"/>
<path d="M49.40 103.80 L49.81 103.74 L50.22 103.69 L50.63 103.63 L51.05 103.57 L51.48 103.51 L51.91 103.45 L52.34 103.39 L52.78 103.33 L53.22 103.27 L53.67 103.20 L54.12 103.14 L54.58 103.08 L55.04 103.01 L55.51 102.95 L55.99 102.88 L56.46 102.81 L56.95 102.74 L57.44 102.68 L57.94 102.61 L58.44 102.54 L58.95 102.47 L59.47 102.39 L59.99 102.32 L60.52 102.25 L61.06 102.17 L61.60 102.09 L62.15 102.02 L62.71 101.94 L63.28 101.86 L63.85 101.78 L64.44 101.70 L65.03 101.62 L65.63 101.53 L66.24 101.45 L66.86 101.36 L67.48 101.27 L68.12 101.18 L68.77 101.09 L69.43 101.00 L70.10 100.91 L70.78 100.81 L71.47 100.72 L72.18 100.62 L72.89 100.52 L73.62 100.41 L74.37 100.31 L75.13 100.20 L75.90 100.10 L76.68 99.99 L77.49 99.87 L78.30 99.76 L79.14 99.64 L79.99 99.52 L80.86 99.40 L81.76 99.28 L82.67 99.15 L83.60 99.02 L84.55 98.89 L85.53 98.75 L86.53 98.61 L87.55 98.47 L88.61 98.32 L89.69 98.17 L90.80 98.01 L91.94 97.85 L93.11 97.69 L94.32 97.52 L95.57 97.35 L96.86 97.17 L98.18 96.98 L99.56 96.79 L100.98 96.59 L102.45 96.39 L103.98 96.17 L105.57 95.95 L107.23 95.72 L108.95 95.48 L110.75 95.23 L112.64 94.96 L114.61 94.69 L116.69 94.40 L118.88 94.09 L121.20 93.77 L123.66 93.42 L126.27 93.06 L129.07 92.67 L132.07 92.25 L135.31 91.79 L138.84 91.30" fill="none" stroke="#0000ff" stroke-width="1.55"/>
<path d="M49.40 91.50 L49.81 91.37 L50.22 91.23 L50.63 91.09 L51.05 90.95 L51.48 90.81 L51.91 90.67 L52.34 90.53 L52.78 90.38 L53.22 90.24 L53.67 90.09 L54.12 89.94 L54.58 89.79 L55.04 89.64 L55.51 89.49 L55.99 89.33 L56.46 89.17 L56.95 89.01 L57.44 88.85 L57.94 88.69 L58.44 88.52 L58.95 88.36 L59.47 88.19 L59.99 88.02 L60.52 87.84 L61.06 87.67 L61.60 87.49 L62.15 87.31 L62.71 87.13 L63.28 86.94 L63.85 86.75 L64.44 86.56 L65.03 86.37 L65.63 86.18 L66.24 85.98 L66.86 85.78 L67.48 85.57 L68.12 85.37 L68.77 85.15 L69.43 84.94 L70.10 84.72 L70.78 84.50 L71.47 84.28 L72.18 84.05 L72.89 83.82 L73.62 83.58 L74.37 83.34 L75.13 83.10 L75.90 82.85 L76.68 82.60 L77.49 82.34 L78.30 82.08 L79.14 81.81 L79.99 81.53 L80.86 81.25 L81.76 80.97 L82.67 80.68 L83.60 80.38 L84.55 80.07 L85.53 79.76 L86.53 79.44 L87.55 79.12 L88.61 78.78 L89.69 78.44 L90.80 78.08 L91.94 77.72 L93.11 77.35 L94.32 76.97 L95.57 76.57 L96.86 76.17 L98.18 75.75 L99.56 75.32 L100.98 74.87 L102.45 74.41 L103.98 73.93 L105.57 73.43 L107.23 72.91 L108.95 72.37 L110.75 71.81 L112.64 71.23 L114.61 70.61 L116.69 69.97 L118.88 69.29 L121.20 68.58 L123.66 67.82 L126.27 67.02 L129.07 66.17 L132.07 65.25 L135.31 64.27 L138.84 63.20" fill="none" stroke="#ff0000" stroke-width="1.55"/>
<path d="M49.40 81.00 L49.81 80.80 L50.22 80.59 L50.63 80.39 L51.05 80.18 L51.48 79.97 L51.91 79.75 L52.34 79.54 L52.78 79.32 L53.22 79.10 L53.67 78.88 L54.12 78.65 L54.58 78.43 L55.04 78.20 L55.51 77.97 L55.99 77.73 L56.46 77.49 L56.95 77.25 L57.44 77.01 L57.94 76.77 L58.44 76.52 L58.95 76.27 L59.47 76.01 L59.99 75.75 L60.52 75.49 L61.06 75.23 L61.60 74.96 L62.15 74.69 L62.71 74.41 L63.28 74.13 L63.85 73.85 L64.44 73.57 L65.03 73.27 L65.63 72.98 L66.24 72.68 L66.86 72.38 L67.48 72.07 L68.12 71.76 L68.77 71.44 L69.43 71.12 L70.10 70.79 L70.78 70.46 L71.47 70.12 L72.18 69.78 L72.89 69.43 L73.62 69.07 L74.37 68.71 L75.13 68.34 L75.90 67.96 L76.68 67.58 L77.49 67.19 L78.30 66.79 L79.14 66.39 L79.99 65.97 L80.86 65.55 L81.76 65.12 L82.67 64.68 L83.60 64.23 L84.55 63.77 L85.53 63.30 L86.53 62.82 L87.55 62.32 L88.61 61.82 L89.69 61.30 L90.80 60.76 L91.94 60.22 L93.11 59.65 L94.32 59.07 L95.57 58.48 L96.86 57.86 L98.18 57.23 L99.56 56.58 L100.98 55.90 L102.45 55.20 L103.98 54.47 L105.57 53.72 L107.23 52.94 L108.95 52.12 L110.75 51.27 L112.64 50.38 L114.61 49.45 L116.69 48.48 L118.88 47.45 L121.20 46.37 L123.66 45.22 L126.27 44.01 L129.07 42.71 L132.07 41.32 L135.31 39.82 L138.84 38.20" fill="none" stroke="#008000" stroke-width="1.55"/>
<path d="M49.40 96.40 L49.81 96.34 L50.22 96.27 L50.63 96.21 L51.05 96.15 L51.48 96.08 L51.91 96.01 L52.34 95.95 L52.78 95.88 L53.22 95.81 L53.67 95.74 L54.12 95.67 L54.58 95.60 L55.04 95.53 L55.51 95.46 L55.99 95.39 L56.46 95.31 L56.95 95.24 L57.44 95.16 L57.94 95.09 L58.44 95.01 L58.95 94.93 L59.47 94.85 L59.99 94.77 L60.52 94.69 L61.06 94.61 L61.60 94.52 L62.15 94.44 L62.71 94.35 L63.28 94.26 L63.85 94.18 L64.44 94.09 L65.03 94.00 L65.63 93.90 L66.24 93.81 L66.86 93.71 L67.48 93.62 L68.12 93.52 L68.77 93.42 L69.43 93.32 L70.10 93.22 L70.78 93.11 L71.47 93.00 L72.18 92.90 L72.89 92.79 L73.62 92.67 L74.37 92.56 L75.13 92.44 L75.90 92.32 L76.68 92.20 L77.49 92.08 L78.30 91.95 L79.14 91.82 L79.99 91.69 L80.86 91.56 L81.76 91.42 L82.67 91.28 L83.60 91.14 L84.55 90.99 L85.53 90.84 L86.53 90.69 L87.55 90.53 L88.61 90.37 L89.69 90.20 L90.80 90.03 L91.94 89.86 L93.11 89.67 L94.32 89.49 L95.57 89.30 L96.86 89.10 L98.18 88.89 L99.56 88.68 L100.98 88.46 L102.45 88.24 L103.98 88.00 L105.57 87.76 L107.23 87.50 L108.95 87.24 L110.75 86.96 L112.64 86.67 L114.61 86.36 L116.69 86.00 L118.88 85.57 L121.20 85.05 L123.66 84.44 L126.27 83.72 L129.07 82.86 L132.07 81.85 L135.31 80.64 L138.84 79.20" fill="none" stroke="#0000ff" stroke-width="1.55" stroke-dasharray="4.5 1.85" stroke-dashoffset="2.40"/>
<path d="M49.40 77.00 L49.81 76.86 L50.22 76.73 L50.63 76.59 L51.05 76.45 L51.48 76.30 L51.91 76.16 L52.34 76.01 L52.78 75.87 L53.22 75.72 L53.67 75.57 L54.12 75.42 L54.58 75.26 L55.04 75.11 L55.51 74.95 L55.99 74.79 L56.46 74.63 L56.95 74.47 L57.44 74.30 L57.94 74.14 L58.44 73.97 L58.95 73.80 L59.47 73.62 L59.99 73.45 L60.52 73.27 L61.06 73.09 L61.60 72.91 L62.15 72.72 L62.71 72.54 L63.28 72.35 L63.85 72.15 L64.44 71.96 L65.03 71.76 L65.63 71.56 L66.24 71.35 L66.86 71.15 L67.48 70.93 L68.12 70.72 L68.77 70.50 L69.43 70.28 L70.10 70.06 L70.78 69.83 L71.47 69.60 L72.18 69.36 L72.89 69.12 L73.62 68.88 L74.37 68.63 L75.13 68.37 L75.90 68.11 L76.68 67.85 L77.49 67.58 L78.30 67.31 L79.14 67.03 L79.99 66.74 L80.86 66.45 L81.76 66.15 L82.67 65.84 L83.60 65.53 L84.55 65.21 L85.53 64.88 L86.53 64.55 L87.55 64.20 L88.61 63.85 L89.69 63.49 L90.80 63.12 L91.94 62.73 L93.11 62.34 L94.32 61.93 L95.57 61.52 L96.86 61.08 L98.18 60.64 L99.56 60.18 L100.98 59.70 L102.45 59.21 L103.98 58.69 L105.57 58.16 L107.23 57.61 L108.95 57.03 L110.75 56.42 L112.64 55.79 L114.61 55.13 L116.69 54.43 L118.88 53.68 L121.20 52.89 L123.66 52.05 L126.27 51.14 L129.07 50.17 L132.07 49.11 L135.31 47.96 L138.84 46.70" fill="none" stroke="#ff0000" stroke-width="1.55" stroke-dasharray="4.5 1.85" stroke-dashoffset="6.24"/>
<path d="M49.40 58.40 L49.81 58.19 L50.22 57.98 L50.63 57.76 L51.05 57.54 L51.48 57.33 L51.91 57.10 L52.34 56.88 L52.78 56.65 L53.22 56.42 L53.67 56.19 L54.12 55.96 L54.58 55.72 L55.04 55.48 L55.51 55.24 L55.99 54.99 L56.46 54.75 L56.95 54.50 L57.44 54.24 L57.94 53.98 L58.44 53.72 L58.95 53.46 L59.47 53.19 L59.99 52.92 L60.52 52.65 L61.06 52.37 L61.60 52.09 L62.15 51.80 L62.71 51.52 L63.28 51.22 L63.85 50.93 L64.44 50.62 L65.03 50.32 L65.63 50.01 L66.24 49.69 L66.86 49.37 L67.48 49.05 L68.12 48.72 L68.77 48.38 L69.43 48.04 L70.10 47.70 L70.78 47.34 L71.47 46.98 L72.18 46.62 L72.89 46.25 L73.62 45.87 L74.37 45.49 L75.13 45.10 L75.90 44.70 L76.68 44.29 L77.49 43.87 L78.30 43.45 L79.14 43.02 L79.99 42.58 L80.86 42.13 L81.76 41.67 L82.67 41.20 L83.60 40.71 L84.55 40.22 L85.53 39.72 L86.53 39.20 L87.55 38.67 L88.61 38.12 L89.69 37.56 L90.80 36.99 L91.94 36.40 L93.11 35.79 L94.32 35.17 L95.57 34.52 L96.86 33.86 L98.18 33.17 L99.56 32.46 L100.98 31.72 L102.45 30.96 L103.98 30.17 L105.57 29.35 L107.23 28.49 L108.95 27.60 L110.75 26.67 L112.64 25.69 L114.61 24.67 L116.69 23.58 L118.88 22.43 L121.20 21.18 L123.66 19.85 L126.27 18.41 L129.07 16.85 L132.07 15.14 L135.31 13.27 L138.84 11.20" fill="none" stroke="#008000" stroke-width="1.55" stroke-dasharray="4.5 1.85" stroke-dashoffset="6.24"/>
<rect x="45.40" y="7.00" width="99.60" height="99.40" fill="none" stroke="#000" stroke-width="1.2"/>
<path d="M45.40 97.30 h3.5 M145.00 97.30 h-3.5 M45.40 78.33 h3.5 M145.00 78.33 h-3.5 M45.40 59.36 h3.5 M145.00 59.36 h-3.5 M45.40 40.39 h3.5 M145.00 40.39 h-3.5 M45.40 21.42 h3.5 M145.00 21.42 h-3.5 M45.40 87.81 h2 M145.00 87.81 h-2 M45.40 68.84 h2 M145.00 68.84 h-2 M45.40 49.88 h2 M145.00 49.88 h-2 M45.40 30.91 h2 M145.00 30.91 h-2 M45.40 11.94 h2 M145.00 11.94 h-2 M49.40 106.40 v-3.5 M49.40 7.00 v3.5 M142.70 106.40 v-3.5 M142.70 7.00 v3.5 M77.49 106.40 v-2 M77.49 7.00 v2 M93.92 106.40 v-2 M93.92 7.00 v2 M105.57 106.40 v-2 M105.57 7.00 v2 M114.61 106.40 v-2 M114.61 7.00 v2 M122.00 106.40 v-2 M122.00 7.00 v2 M128.25 106.40 v-2 M128.25 7.00 v2 M133.66 106.40 v-2 M133.66 7.00 v2 M138.43 106.40 v-2 M138.43 7.00 v2" stroke="#000" stroke-width="0.8" fill="none"/>
<text x="42.6" y="100.50" text-anchor="end" font-size="9.5">1</text>
<text x="42.6" y="81.53" text-anchor="end" font-size="9.5">2</text>
<text x="42.6" y="62.56" text-anchor="end" font-size="9.5">3</text>
<text x="42.6" y="43.59" text-anchor="end" font-size="9.5">4</text>
<text x="42.6" y="24.62" text-anchor="end" font-size="9.5">5</text>
<text x="42.50" y="117.40" font-size="9.5">10</text><text transform="translate(52.20 113.90) scale(1.12 1)" font-size="6.2" stroke-width="0.4">2</text>
<text x="135.50" y="117.40" font-size="9.5">10</text><text transform="translate(145.20 113.90) scale(1.12 1)" font-size="6.2" stroke-width="0.4">3</text>
<text x="47.1" y="17.4" font-size="9.5">×</text>
<text x="53.2" y="16.9" font-size="9.5" letter-spacing="0.3">10</text>
<text transform="translate(64.2 13.7) scale(1.12 1)" font-size="6.2" stroke-width="0.4">4</text>
</g>
<g filter="url(#noop)">
<rect x="283.8" y="16.9" width="129.20" height="54.90" fill="#fff"/>
<rect x="288.5" y="20.1" width="119.30" height="48.20" fill="none" stroke="#111" stroke-width="0.9"/>
<path d="M297.2 28.70 H324.7" stroke="#0000ff" stroke-width="1.5"/>
<path d="M371.6 28.70 H399.3" stroke="#0000ff" stroke-width="1.5" stroke-dasharray="6 3.3 8 3.2 8 3"/>
<circle cx="297.20" cy="28.70" r="2.5" fill="#0000ff"/>
<circle cx="324.70" cy="28.70" r="2.5" fill="#0000ff"/>
<circle cx="371.60" cy="28.70" r="2.5" fill="#0000ff"/>
<circle cx="399.30" cy="28.70" r="2.5" fill="#0000ff"/>
<text transform="translate(332.1 32.30) scale(1.18 1)" font-size="10.5" font-style="italic">n</text>
<path d="M341.9 28.20 H349.7 M341.9 30.60 H349.7" stroke="#000" stroke-width="0.7"/>
<text x="353.5" y="32.40" font-size="10.5" letter-spacing="0.25">10</text>
<path d="M297.2 40.10 H324.7" stroke="#ff0000" stroke-width="1.5"/>
<path d="M371.6 40.10 H399.3" stroke="#ff0000" stroke-width="1.5" stroke-dasharray="6 3.3 8 3.2 8 3"/>
<circle cx="297.20" cy="40.10" r="2.5" fill="#ff0000"/>
<circle cx="324.70" cy="40.10" r="2.5" fill="#ff0000"/>
<circle cx="371.60" cy="40.10" r="2.5" fill="#ff0000"/>
<circle cx="399.30" cy="40.10" r="2.5" fill="#ff0000"/>
<text transform="translate(332.1 43.70) scale(1.18 1)" font-size="10.5" font-style="italic">n</text>
<path d="M341.9 39.60 H349.7 M341.9 42.00 H349.7" stroke="#000" stroke-width="0.7"/>
<text x="353.5" y="43.80" font-size="10.5" letter-spacing="0.25">20</text>
<path d="M297.2 51.60 H324.7" stroke="#008000" stroke-width="1.5"/>
<path d="M371.6 51.60 H399.3" stroke="#008000" stroke-width="1.5" stroke-dasharray="6 3.3 8 3.2 8 3"/>
<circle cx="297.20" cy="51.60" r="2.5" fill="#008000"/>
<circle cx="324.70" cy="51.60" r="2.5" fill="#008000"/>
<circle cx="371.60" cy="51.60" r="2.5" fill="#008000"/>
<circle cx="399.30" cy="51.60" r="2.5" fill="#008000"/>
<text transform="translate(332.1 55.20) scale(1.18 1)" font-size="10.5" font-style="italic">n</text>
<path d="M341.9 51.10 H349.7 M341.9 53.50 H349.7" stroke="#000" stroke-width="0.7"/>
<text x="353.5" y="55.30" font-size="10.5" letter-spacing="0.25">30</text>
<text transform="translate(296.6 63.8) scale(1.12 1)" font-size="10.3" font-style="italic">κ</text>
<path d="M305.2 60.4 H312.7 M305.2 62.6 H312.7" stroke="#000" stroke-width="0.65"/>
<text x="315.7" y="63.8" font-size="9.5">60</text>
<text transform="translate(369.0 63.8) scale(1.12 1)" font-size="10.3" font-style="italic">κ</text>
<path d="M377.2 60.4 H384.7 M377.2 62.6 H384.7" stroke="#000" stroke-width="0.65"/>
<text x="387.7" y="63.8" font-size="9.5">200</text>
</g>
</svg>
</body></html>
